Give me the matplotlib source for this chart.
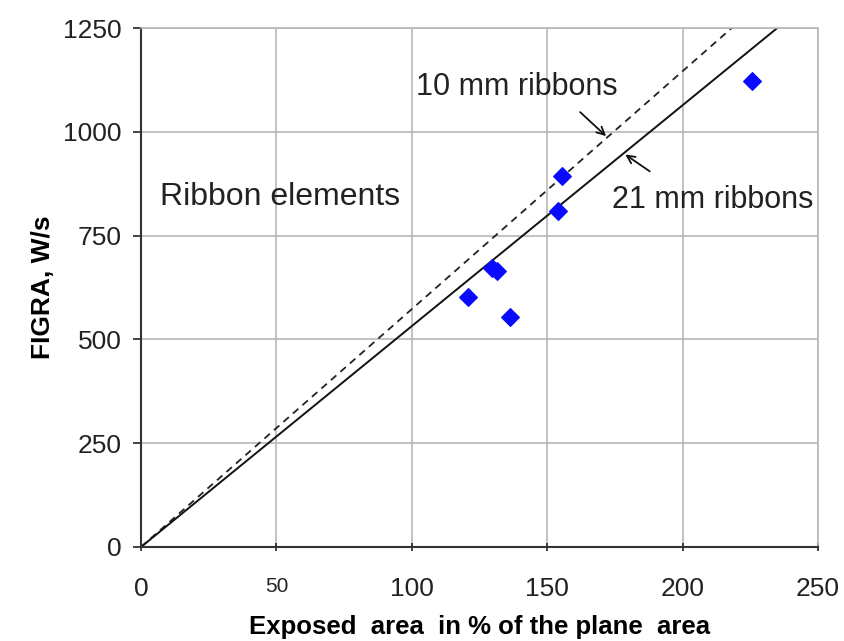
import matplotlib
matplotlib.use("Agg")
import matplotlib.pyplot as plt
import numpy as np

plt.rcParams['font.family'] = ['Liberation Sans', 'DejaVu Sans']

# Measured ribbon elements: exposed area (% of plane area) vs FIGRA (W/s)
exposed_area = [225.5, 155.4, 154.1, 129.8, 131.6, 120.9, 136.3]
figra = [1123, 893, 810, 672, 665, 603, 553]

# Fitted proportional lines FIGRA = k * area
slope_10mm = 5.73
slope_21mm = 5.32

x_ticks = [0, 50, 100, 150, 200, 250]
y_ticks = [0, 250, 500, 750, 1000, 1250]

fig = plt.figure(figsize=(8.45, 6.41), dpi=100)
ax = fig.add_axes([141 / 845, 1 - 547 / 641, (818 - 141) / 845, (547 - 28) / 641])

ax.set_xlim(0, 250)
ax.set_ylim(0, 1250)
ax.set_xticks(x_ticks)
ax.set_yticks(y_ticks)
ax.grid(True, color='#b8b8b8', linewidth=1.2)
ax.set_axisbelow(True)

for side in ('top', 'right'):
    ax.spines[side].set_color('#b8b8b8')
    ax.spines[side].set_linewidth(1.2)
for side in ('left', 'bottom'):
    ax.spines[side].set_color('#333333')
    ax.spines[side].set_linewidth(1.5)

xs = np.array([0, 250])
ax.plot(xs, slope_10mm * xs, linestyle=(0, (4, 3)), color='#222222', linewidth=1.3)
ax.plot(xs, slope_21mm * xs, linestyle='-', color='#111111', linewidth=1.4)

ax.scatter(exposed_area, figra, marker='D', s=80, color='#0a0aff',
           edgecolors='#0a0aff', zorder=5)

ax.tick_params(axis='both', labelsize=19, colors='#222222', length=6, width=1.2)
ax.tick_params(axis='x', pad=18.5, direction='inout')
ax.tick_params(axis='y', pad=8, direction='out')
ax.set_xticklabels([str(v) for v in x_ticks])
for lbl in ax.get_xticklabels():
    if lbl.get_text() == '50':
        lbl.set_fontsize(15)

ax.set_xlabel('Exposed  area  in % of the plane  area', fontsize=18.5,
              fontweight='bold', va='center')
ax.xaxis.set_label_coords(0.5, (547 - 627) / 519)
ax.set_ylabel('FIGRA, W/s', fontsize=19, fontweight='bold', labelpad=6)

ax.text(7, 843, 'Ribbon elements', fontsize=23, va='center', ha='left', color='#222222')
ax.text(176, 1108, '10 mm ribbons', fontsize=22, va='center', ha='right', color='#222222')
ax.text(174, 836, '21 mm ribbons', fontsize=22, va='center', ha='left', color='#222222')

arrow_kw = dict(arrowstyle='->', color='#111111', lw=1.3, mutation_scale=14)
ax.annotate('', xy=(172.5, 985), xytext=(161.4, 1052), arrowprops=arrow_kw)
ax.annotate('', xy=(178, 949), xytext=(188.7, 901), arrowprops=arrow_kw)

fig.savefig('out.png', dpi=100)
